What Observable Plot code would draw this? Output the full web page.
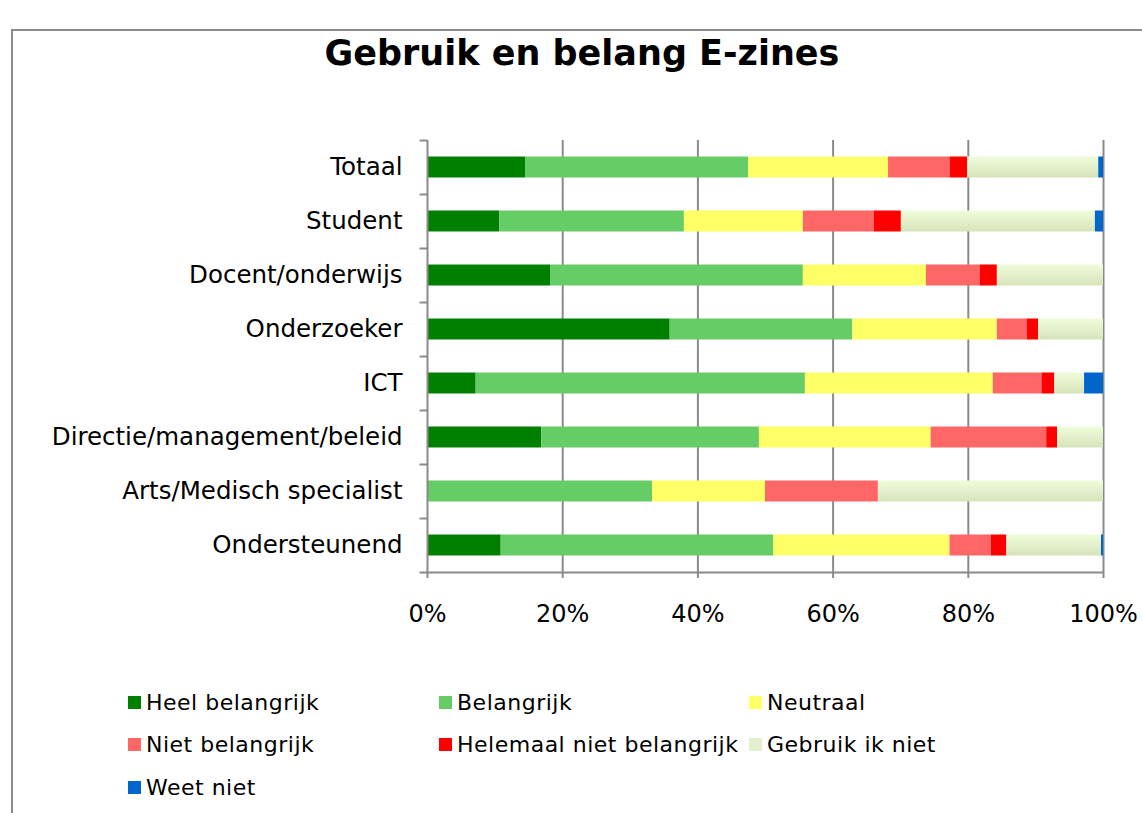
<!DOCTYPE html>
<html>
<head>
<meta charset="utf-8">
<script src="https://cdn.jsdelivr.net/npm/d3@7"></script>
<script src="https://cdn.jsdelivr.net/npm/@observablehq/plot@0.6"></script>
<style>
  html, body { margin: 0; padding: 0; background: #fff; }
  body { width: 1142px; height: 813px; position: relative; overflow: hidden; font-family: "DejaVu Sans", Verdana, sans-serif; }
  #frame { position: absolute; left: 11px; top: 29px; width: 1200px; height: 900px; border-left: 2px solid #8c8c8c; border-top: 2px solid #8c8c8c; }
  #title { position: absolute; left: 0; top: 33px; width: 1164px; text-align: center; font-weight: bold; font-size: 35px; color: #000; }
  #chart { position: absolute; left: 0; top: 0; }
  .leg { position: absolute; font-size: 22px; letter-spacing: 0.5px; color: #000; white-space: nowrap; line-height: 26px; }
  .sw { position: absolute; width: 13px; height: 13px; }
</style>
</head>
<body>
<div id="frame"></div>
<div id="title">Gebruik en belang E-zines</div>
<div id="chart"></div>
<div id="legend"></div>
<script>
const categories = ["Totaal", "Student", "Docent/onderwijs", "Onderzoeker", "ICT", "Directie/management/beleid", "Arts/Medisch specialist", "Ondersteunend"];
const series = ["Heel belangrijk", "Belangrijk", "Neutraal", "Niet belangrijk", "Helemaal niet belangrijk", "Gebruik ik niet", "Weet niet"];
const colors = ["#008000", "#66CC66", "#FFFF66", "#FF6666", "#FF0000", "url(#gebruikGrad)", "#0066CC"];
const legendColors = ["#008000", "#66CC66", "#FFFF66", "#FF6666", "#FF0000", "#E3EFCF", "#0066CC"];

// percentages per category, in category order
const heelBelangrijk      = [14.5, 10.7, 18.2, 35.9,  7.2, 16.9,  0.0, 10.9];
const belangrijk          = [33.0, 27.3, 37.4, 27.0, 48.7, 32.2, 33.3, 40.3];
const neutraal            = [20.7, 17.6, 18.2, 21.4, 27.8, 25.4, 16.7, 26.1];
const nietBelangrijk      = [ 9.1, 10.5,  8.0,  4.4,  7.2, 17.1, 16.7,  6.1];
const helemaalNiet        = [ 2.6,  4.0,  2.5,  1.7,  1.9,  1.6,  0.0,  2.3];
const gebruikIkNiet       = [19.4, 28.7, 15.7,  9.6,  4.4,  6.8, 33.3, 14.0];
const weetNiet            = [ 0.7,  1.2,  0.0,  0.0,  2.8,  0.0,  0.0,  0.3];
const xTicks = [0, 20, 40, 60, 80, 100];

const seriesValues = [heelBelangrijk, belangrijk, neutraal, nietBelangrijk, helemaalNiet, gebruikIkNiet, weetNiet];
const data = [];
categories.forEach((c, i) => {
  series.forEach((s, j) => data.push({cat: c, series: s, value: seriesValues[j][i]}));
});

const grid = "#8a8a8a";
const plot = Plot.plot({
  width: 1142,
  height: 650,
  marginLeft: 427,
  marginRight: 39,
  marginTop: 140,
  marginBottom: 78,
  style: {fontFamily: "DejaVu Sans, Verdana, sans-serif", background: "transparent", overflow: "visible"},
  x: {domain: [0, 100], axis: null},
  y: {domain: categories, padding: 0, axis: null},
  color: {domain: series, range: colors},
  marks: [
    Plot.gridX(xTicks.slice(1), {stroke: grid, strokeWidth: 2, strokeOpacity: 1}),
    Plot.barX(data, Plot.stackX({x: "value", y: "cat", fill: "series", order: series, insetTop: 16.5, insetBottom: 16.5})),
    Plot.ruleX([0], {stroke: grid, strokeWidth: 2}),
    Plot.ruleY(categories, {y: d => d, x1: -1.1, x2: 0, dy: -27, stroke: grid, strokeWidth: 2}),
    Plot.ruleY([categories[categories.length - 1]], {y: d => d, x1: -1.1, x2: 100, dy: 27, stroke: grid, strokeWidth: 2}),
    Plot.axisX({ticks: xTicks, tickSize: 6, tickPadding: 26, tickFormat: d => d + "%", fontSize: 24, stroke: grid, strokeWidth: 2, fill: "black", label: null}),
    Plot.axisY({tickSize: 0, tickPadding: 25, fontSize: 24.5, fill: "black", label: null})
  ]
});

// gradient for "Gebruik ik niet"
const svg = d3.select(plot);
const defs = svg.insert("defs", ":first-child");
const g = defs.append("linearGradient").attr("id", "gebruikGrad").attr("x1", 0).attr("y1", 0).attr("x2", 0).attr("y2", 1);
g.append("stop").attr("offset", "0%").attr("stop-color", "#F0FDDB");
g.append("stop").attr("offset", "100%").attr("stop-color", "#D6E3BA");

document.getElementById("chart").appendChild(plot);

// legend
const legend = document.getElementById("legend");
const colX = [128, 439, 749];
const rowY = [704, 746, 789];
series.forEach((s, i) => {
  const x = colX[i % 3], y = rowY[Math.floor(i / 3)];
  const sw = document.createElement("div");
  sw.className = "sw";
  sw.style.left = x + "px";
  sw.style.top = (y - 8) + "px";
  sw.style.background = legendColors[i];
  legend.appendChild(sw);
  const t = document.createElement("div");
  t.className = "leg";
  t.style.left = (x + 18) + "px";
  t.style.top = (y - 14) + "px";
  t.textContent = s;
  legend.appendChild(t);
});
</script>
</body>
</html>
